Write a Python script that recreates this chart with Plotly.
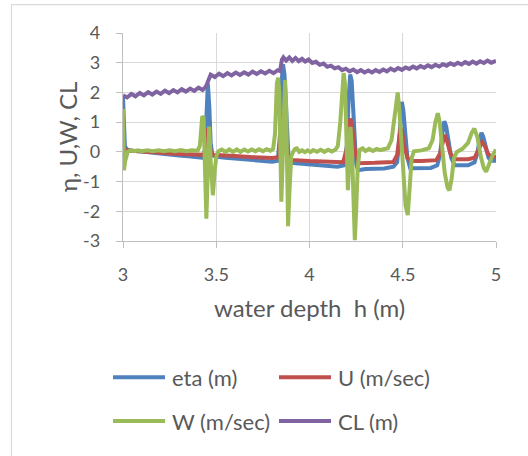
import plotly.graph_objects as go

# ---------------- data ----------------
eta_x = [3.000, 3.005, 3.010, 3.020, 3.050, 3.100, 3.150, 3.200, 3.250, 3.300, 3.350, 3.400,
         3.430, 3.440, 3.447, 3.455, 3.463, 3.470, 3.480, 3.500, 3.550, 3.600, 3.650, 3.700,
         3.750, 3.800, 3.830, 3.842, 3.850, 3.858, 3.866, 3.875, 3.888, 3.900, 3.950, 4.000,
         4.050, 4.100, 4.150, 4.185, 4.200, 4.210, 4.218, 4.226, 4.236, 4.250, 4.260, 4.300,
         4.350, 4.400, 4.450, 4.470, 4.480, 4.488, 4.495, 4.503, 4.512, 4.525, 4.540, 4.600,
         4.650, 4.685, 4.700, 4.712, 4.723, 4.733, 4.745, 4.760, 4.778, 4.800, 4.850, 4.885,
         4.900, 4.912, 4.922, 4.932, 4.945, 4.960, 4.975, 5.000]
eta_y = [1.85, 0.70, 0.20, 0.08, 0.04, 0.01, -0.03, -0.06, -0.09, -0.12, -0.15, -0.18,
         -0.20, 0.10, 1.60, 2.30, 1.50, 0.30, -0.12, -0.17, -0.20, -0.22, -0.25, -0.27,
         -0.30, -0.33, -0.30, 0.60, 2.30, 2.95, 2.60, 1.20, -0.25, -0.37, -0.40, -0.42,
         -0.45, -0.48, -0.50, -0.45, 0.20, 1.80, 2.60, 2.40, 1.20, -0.40, -0.62, -0.58,
         -0.57, -0.56, -0.50, -0.35, 0.30, 1.20, 1.68, 1.40, 0.60, -0.20, -0.55, -0.55,
         -0.54, -0.45, -0.10, 0.60, 1.03, 0.85, 0.30, -0.20, -0.45, -0.46, -0.45, -0.35,
         -0.05, 0.40, 0.64, 0.50, 0.10, -0.20, -0.30, -0.30]

u_x = [3.000, 3.006, 3.015, 3.050, 3.100, 3.200, 3.300, 3.400, 3.435, 3.445, 3.452, 3.460,
       3.470, 3.482, 3.500, 3.600, 3.700, 3.800, 3.835, 3.845, 3.855, 3.865, 3.877, 3.890,
       3.900, 4.000, 4.100, 4.180, 4.200, 4.210, 4.218, 4.228, 4.240, 4.255, 4.270, 4.350,
       4.450, 4.470, 4.480, 4.488, 4.496, 4.508, 4.525, 4.545, 4.600, 4.680, 4.700, 4.715,
       4.725, 4.738, 4.755, 4.778, 4.850, 4.885, 4.905, 4.925, 4.940, 4.958, 4.978, 5.000]
u_y = [0.45, 0.12, 0.05, 0.03, 0.01, -0.03, -0.07, -0.10, -0.10, 0.30, 0.80, 0.50,
       0.00, -0.10, -0.11, -0.14, -0.18, -0.21, -0.18, 0.60, 1.35, 1.00, 0.10, -0.25,
       -0.27, -0.31, -0.35, -0.35, 0.10, 0.80, 1.12, 0.90, 0.20, -0.30, -0.38, -0.37,
       -0.34, -0.10, 0.40, 0.80, 0.70, 0.20, -0.20, -0.31, -0.31, -0.28, -0.05, 0.40,
       0.57, 0.35, -0.05, -0.25, -0.25, -0.20, 0.10, 0.33, 0.20, -0.08, -0.17, -0.17]

w_x = [3.000, 3.005, 3.012, 3.025, 3.040, 3.060, 3.080, 3.100, 3.130, 3.160, 3.190, 3.220,
       3.250, 3.280, 3.310, 3.340, 3.370, 3.400, 3.412, 3.420, 3.425, 3.432, 3.440, 3.447,
       3.453, 3.462, 3.470, 3.482, 3.492, 3.502, 3.512, 3.530, 3.550, 3.570, 3.590, 3.610,
       3.630, 3.650, 3.670, 3.690, 3.710, 3.730, 3.750, 3.770, 3.790, 3.805, 3.815, 3.825,
       3.832, 3.838, 3.844, 3.849, 3.855, 3.862, 3.869, 3.875, 3.880, 3.885, 3.892, 3.902,
       3.912, 3.922, 3.932, 3.945, 3.960, 3.975, 3.990, 4.005, 4.020, 4.040, 4.060, 4.080,
       4.100, 4.120, 4.140, 4.152, 4.165, 4.175, 4.183, 4.190, 4.197, 4.206, 4.213, 4.220,
       4.228, 4.236, 4.243, 4.250, 4.258, 4.268, 4.285, 4.300, 4.320, 4.340, 4.360, 4.380,
       4.400, 4.420, 4.440, 4.455, 4.465, 4.473, 4.482, 4.492, 4.505, 4.515, 4.527, 4.538,
       4.548, 4.560, 4.600, 4.640, 4.660, 4.675, 4.688, 4.698, 4.710, 4.725, 4.740, 4.750,
       4.762, 4.775, 4.790, 4.820, 4.850, 4.870, 4.884, 4.900, 4.920, 4.935, 4.947, 4.962,
       4.983, 5.000]
w_y = [1.45, -0.62, -0.30, 0.00, 0.05, 0.02, 0.05, 0.02, 0.05, 0.02, 0.05, 0.02,
       0.05, 0.02, 0.06, 0.02, 0.05, 0.04, 0.20, 1.00, 1.20, 1.15, -0.50, -2.25,
       -1.00, 0.85, -0.30, -1.46, -0.60, -0.10, 0.02, 0.08, 0.00, 0.08, 0.00, 0.08,
       0.00, 0.08, 0.01, 0.08, 0.02, 0.09, 0.02, 0.09, 0.04, 0.10, 0.60, 2.30,
       2.50, 2.00, 0.00, -1.68, -0.50, 1.60, 2.42, 1.50, -1.00, -2.50, -1.40, -0.15,
       0.00, 0.10, 0.12, 0.00, 0.05, -0.01, 0.05, -0.01, 0.06, 0.00, 0.07, 0.00,
       0.07, 0.01, 0.08, 0.20, 1.00, 2.20, 2.65, 2.30, 0.60, -1.29, -0.30, 0.84,
       0.00, -2.00, -2.97, -2.00, -0.60, 0.06, 0.12, 0.03, 0.10, 0.03, 0.10, 0.06,
       0.08, 0.12, 0.40, 1.20, 1.85, 2.00, 1.40, 0.40, -0.80, -1.80, -2.13, -1.30,
       -0.20, 0.02, 0.05, 0.12, 0.40, 1.00, 1.30, 1.00, 0.20, -0.70, -1.20, -1.30,
       -0.90, -0.20, 0.00, 0.10, 0.30, 0.65, 0.78, 0.50, -0.20, -0.55, -0.67, -0.40,
       -0.10, 0.08]

cl_x = [3.000, 3.022, 3.045, 3.067, 3.090, 3.112, 3.135, 3.157, 3.180, 3.202, 3.225, 3.247,
        3.270, 3.292, 3.315, 3.337, 3.360, 3.382, 3.405, 3.427, 3.445, 3.458, 3.470, 3.492,
        3.515, 3.537, 3.560, 3.582, 3.605, 3.627, 3.650, 3.672, 3.695, 3.717, 3.740, 3.762,
        3.785, 3.807, 3.830, 3.842, 3.852, 3.860, 3.875, 3.892, 3.908, 3.925, 3.942, 3.960,
        3.977, 3.995, 4.015, 4.035, 4.055, 4.075, 4.095, 4.115, 4.135, 4.155, 4.175, 4.195,
        4.215, 4.235, 4.255, 4.275, 4.295, 4.315, 4.335, 4.355, 4.375, 4.395, 4.415, 4.435,
        4.455, 4.475, 4.495, 4.515, 4.535, 4.555, 4.575, 4.595, 4.615, 4.635, 4.655, 4.675,
        4.695, 4.715, 4.735, 4.755, 4.775, 4.795, 4.815, 4.835, 4.855, 4.875, 4.895, 4.915,
        4.935, 4.955, 4.975, 5.000]
cl_y = [1.90, 1.83, 1.95, 1.87, 1.98, 1.90, 2.01, 1.93, 2.03, 1.95, 2.06, 1.98,
        2.08, 2.00, 2.11, 2.03, 2.13, 2.05, 2.16, 2.08, 2.20, 2.42, 2.60, 2.52,
        2.63, 2.55, 2.65, 2.57, 2.67, 2.59, 2.68, 2.60, 2.70, 2.62, 2.71, 2.64,
        2.73, 2.65, 2.75, 2.72, 3.10, 3.18, 3.07, 3.18, 3.06, 3.16, 3.05, 3.13,
        3.04, 3.11, 2.99, 3.03, 2.93, 2.97, 2.86, 2.90, 2.81, 2.85, 2.75, 2.80,
        2.71, 2.77, 2.68, 2.75, 2.67, 2.74, 2.67, 2.75, 2.69, 2.77, 2.71, 2.80,
        2.74, 2.82, 2.76, 2.84, 2.79, 2.87, 2.81, 2.89, 2.83, 2.91, 2.85, 2.93,
        2.87, 2.95, 2.90, 2.98, 2.92, 3.00, 2.94, 3.02, 2.96, 3.04, 2.97, 3.05,
        2.99, 3.07, 3.00, 3.06]

series_names = ["eta (m)", "U (m/sec)", "W (m/sec)", "CL (m)"]
series_colors = ["#4F81BD", "#C0504D", "#9BBB59", "#8064A2"]
x_ticks = [3, 3.5, 4, 4.5, 5]
x_ticklabels = ["3", "3.5", "4", "4.5", "5"]
y_ticks = [-3, -2, -1, 0, 1, 2, 3, 4]
y_ticklabels = ["-3", "-2", "-1", "0", "1", "2", "3", "4"]

# ---------------- figure ----------------
FONT = "Lato, 'Open Sans', sans-serif"
TXT = "#595959"
W, H = 528, 456
L, R, T, B = 123, 32, 33, 214.5
pw, ph = W - L - R, H - T - B

def px2x(px):
    return (px - L) / pw

def py2y(py):
    return (H - B - py) / ph

fig = go.Figure()
data = [(eta_x, eta_y), (u_x, u_y), (w_x, w_y), (cl_x, cl_y)]
for (xs, ys), name, col in zip(data, series_names, series_colors):
    fig.add_trace(go.Scatter(x=xs, y=ys, mode="lines", name=name,
                             line=dict(color=col, width=4), showlegend=False))

shapes = []
annotations = []
# chart frame (left & top edges visible)
shapes.append(dict(type="line", xref="paper", yref="paper", x0=px2x(11.5), x1=px2x(560),
                   y0=py2y(4.5), y1=py2y(4.5), line=dict(color="#D9D9D9", width=1.2)))
shapes.append(dict(type="line", xref="paper", yref="paper", x0=px2x(11.5), x1=px2x(11.5),
                   y0=py2y(4.5), y1=py2y(470), line=dict(color="#D9D9D9", width=1.2)))

# manual legend (two rows)
leg_pos = [(113, 378), (279, 378), (113, 422), (279, 422)]
for (lx, ly), name, col in zip(leg_pos, series_names, series_colors):
    shapes.append(dict(type="line", xref="paper", yref="paper", x0=px2x(lx), x1=px2x(lx + 52),
                       y0=py2y(ly), y1=py2y(ly), line=dict(color=col, width=4)))
    annotations.append(dict(text=name, xref="paper", yref="paper", x=px2x(lx + 57), y=py2y(ly),
                            xanchor="left", yanchor="middle", showarrow=False,
                            font=dict(family=FONT, size=22, color=TXT)))

# axis titles
annotations.append(dict(text="water depth  h (m)", xref="paper", yref="paper", x=0.5, y=py2y(308),
                        xanchor="center", yanchor="middle", showarrow=False,
                        font=dict(family=FONT, size=24, color=TXT)))
annotations.append(dict(text="η, U,W, CL", xref="paper", yref="paper", x=px2x(67), y=0.5,
                        xanchor="center", yanchor="middle", showarrow=False, textangle=-90,
                        font=dict(family=FONT, size=24, color=TXT)))

fig.update_layout(
    width=W, height=H,
    margin=dict(l=L, r=R, t=T, b=B, pad=0, autoexpand=False),
    paper_bgcolor="white", plot_bgcolor="white",
    shapes=shapes, annotations=annotations,
    showlegend=False,
)
fig.update_xaxes(range=[3, 5], tickvals=x_ticks, ticktext=x_ticklabels,
                 showgrid=True, gridcolor="#D9D9D9", gridwidth=1.3,
                 showline=True, linecolor="#BFBFBF", linewidth=1.3,
                 ticks="outside", ticklen=6, tickcolor="#BFBFBF", ticklabelstandoff=11,
                 tickfont=dict(family=FONT, size=18, color=TXT), zeroline=False)
fig.update_yaxes(range=[-3, 4], tickvals=y_ticks, ticktext=y_ticklabels,
                 showgrid=True, gridcolor="#D9D9D9", gridwidth=1.3,
                 showline=True, linecolor="#BFBFBF", linewidth=1.3,
                 ticks="outside", ticklen=6, tickcolor="#BFBFBF", ticklabelstandoff=12,
                 tickfont=dict(family=FONT, size=18, color=TXT), zeroline=False)

fig.write_html("out.html")
